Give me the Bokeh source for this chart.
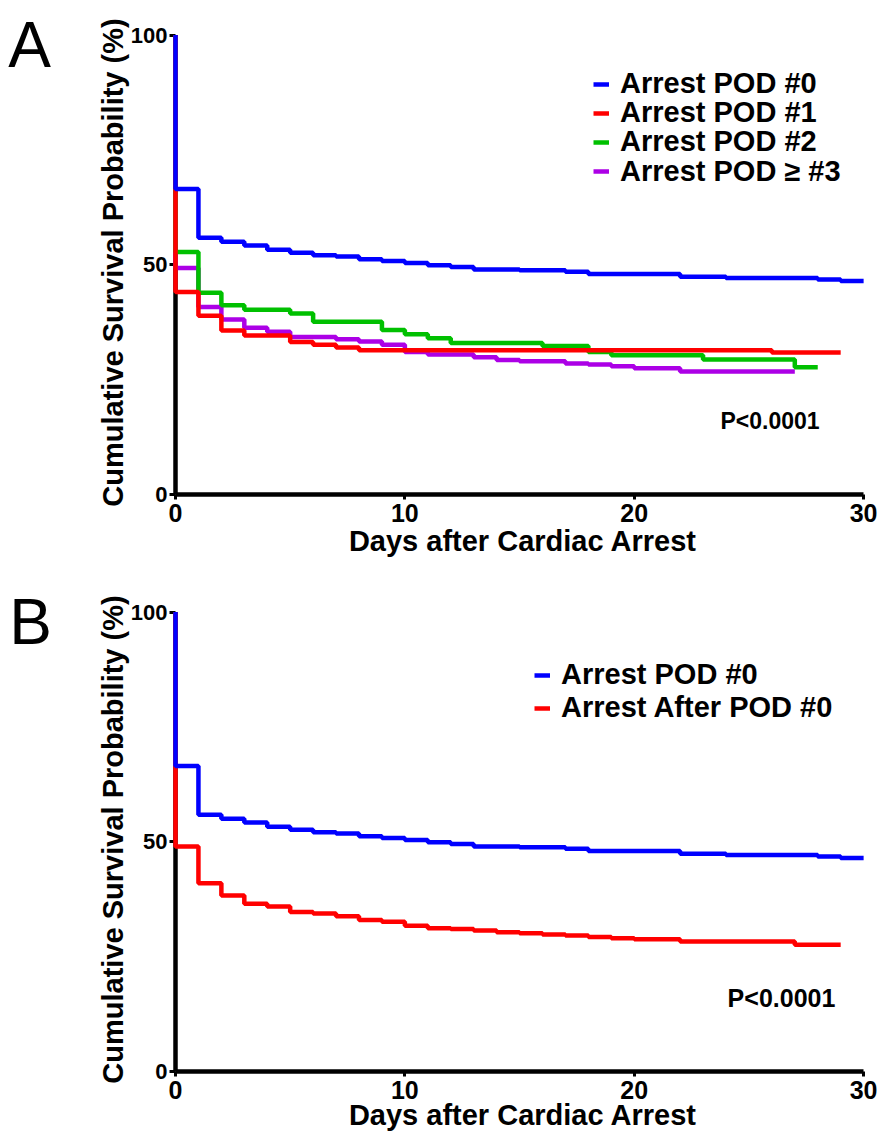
from bokeh.plotting import figure
from bokeh.models import Range1d, Legend, LegendItem, Label, FixedTicker
from bokeh.layouts import column, row
from bokeh.embed import file_html
from bokeh.resources import INLINE

# ---------------- data ----------------
x_ticks = [0, 10, 20, 30]
y_ticks = [0, 50, 100]

# Panel A
a_pod0_days = [0, 0, 1, 2, 3, 4, 5, 6, 7, 8, 9, 10, 11, 12, 13, 15, 17, 18, 22, 24, 28, 29, 30]
a_pod0_surv = [100, 66.5, 55.9, 55.0, 54.2, 53.3, 52.6, 52.1, 51.8, 51.2, 50.8, 50.4, 49.9, 49.5,
               49.0, 48.8, 48.5, 48.0, 47.4, 47.1, 46.8, 46.5, 46.5]

a_pod1_days = [0, 0, 1, 2, 3, 5, 6, 7, 8, 26, 29]
a_pod1_surv = [100, 44.1, 38.9, 35.7, 34.6, 33.2, 32.6, 32.0, 31.4, 30.9, 30.9]

a_pod2_days = [0, 0, 1, 2, 3, 5, 6, 9, 10, 11, 12, 16, 18, 19, 23, 27, 28]
a_pod2_surv = [100, 52.8, 43.9, 41.2, 40.2, 39.4, 37.6, 35.8, 34.9, 34.0, 33.0, 32.3, 31.0, 30.3,
               29.4, 27.7, 27.7]

a_pod3_days = [0, 0, 1, 2, 3, 4, 5, 7, 8, 9, 10, 11, 13, 14, 15, 17, 18, 19, 20, 22, 27]
a_pod3_surv = [100, 49.3, 40.8, 38.1, 36.3, 35.4, 34.3, 33.8, 33.3, 32.6, 31.0, 30.5, 29.9, 29.3,
               29.0, 28.5, 28.3, 27.9, 27.5, 26.8, 26.8]

# Panel B
b_pod0_days = a_pod0_days
b_pod0_surv = a_pod0_surv

b_after_days = [0, 0, 1, 2, 3, 4, 5, 6, 7, 8, 9, 10, 11, 12, 13, 14, 15, 16, 17, 18, 19, 20, 22, 27, 29]
b_after_surv = [100, 49.0, 41.0, 38.3, 36.5, 35.9, 34.7, 34.4, 33.8, 33.0, 32.6, 31.7, 31.2, 31.0,
                30.7, 30.3, 30.1, 29.8, 29.6, 29.3, 29.0, 28.8, 28.3, 27.6, 27.6]

labels_a = ["Arrest POD #0", "Arrest POD #1", "Arrest POD #2", "Arrest POD \u2265 #3"]
labels_b = ["Arrest POD #0", "Arrest After POD #0"]
panel_letters = ["A", "B"]
p_text = "P<0.0001"
x_title = "Days after Cardiac Arrest"
y_title = "Cumulative Survival Probability (%)"

BLUE = "#0000FF"
RED = "#FF0000"
GREEN = "#00C000"
PURPLE = "#AC00E6"
FONT = "Liberation Sans"
LW = 4.5


def make_panel(height, top, bottom, xlabel_standoff):
    p = figure(width=825, height=height, output_backend="svg", toolbar_location=None,
               x_range=Range1d(0, 30.3), y_range=Range1d(0, 101.0),
               min_border_left=120, min_border_right=10, min_border_top=top,
               min_border_bottom=bottom, outline_line_color=None)
    p.xgrid.visible = False
    p.ygrid.visible = False
    p.background_fill_color = "white"
    p.border_fill_color = "white"
    for ax, ticks, bounds in ((p.xaxis[0], x_ticks, (0, 30)), (p.yaxis[0], y_ticks, (0, 100))):
        ax.ticker = FixedTicker(ticks=ticks)
        ax.bounds = bounds
        ax.axis_line_width = LW
        ax.axis_line_color = "black"
        ax.major_tick_line_width = 3
        ax.major_tick_line_color = "black"
        ax.major_tick_in = 0
        ax.minor_tick_line_color = None
        ax.major_label_text_font = FONT
        ax.major_label_text_font_style = "bold"
        ax.major_label_text_color = "black"
        ax.axis_label_text_font = FONT
        ax.axis_label_text_font_style = "bold"
        ax.axis_label_text_font_size = "29px"
        ax.axis_label_text_color = "black"
    xa, ya = p.xaxis[0], p.yaxis[0]
    xa.major_tick_out = 5
    xa.major_label_standoff = 4
    xa.major_label_text_font_size = "25px"
    xa.axis_label = x_title
    xa.axis_label_standoff = xlabel_standoff
    ya.major_tick_out = 6
    ya.major_label_standoff = 2
    ya.major_label_text_font_size = "22px"
    ya.axis_label = y_title
    ya.axis_label_standoff = -1
    return p


def add_legend(p, items, loc):
    lg = Legend(items=items, location=loc, orientation="vertical",
                label_text_font=FONT, label_text_font_style="bold", label_text_font_size="29px",
                label_text_color="black", glyph_width=16, glyph_height=20, label_height=20,
                label_standoff=11, spacing=0, padding=0, margin=0,
                border_line_alpha=0, background_fill_alpha=0)
    p.add_layout(lg)


# ---------------- panel letters (narrow strip on the left) ----------------
letters = figure(width=55, height=1138, output_backend="svg", toolbar_location=None,
                 x_range=Range1d(0, 55), y_range=Range1d(0, 1138),
                 x_axis_location=None, y_axis_location=None, min_border=0,
                 outline_line_color=None)
letters.grid.visible = False
letters.add_layout(Label(x=29, y=1093.7, text=panel_letters[0], text_font=FONT,
                         text_font_size="64px", text_align="center",
                         text_baseline="alphabetic", text_color="black"))
letters.add_layout(Label(x=30, y=516.7, text=panel_letters[1], text_font=FONT,
                         text_font_size="64px", text_align="center",
                         text_baseline="alphabetic", text_color="black"))

# ---------------- Panel A ----------------
pA = make_panel(583, 30, 89, 0)
r3 = pA.step(a_pod3_days, a_pod3_surv, mode="after", line_color=PURPLE, line_width=LW, level="overlay")
r2 = pA.step(a_pod2_days, a_pod2_surv, mode="after", line_color=GREEN, line_width=LW, level="overlay")
r1 = pA.step(a_pod1_days, a_pod1_surv, mode="after", line_color=RED, line_width=LW, level="overlay")
r0 = pA.step(a_pod0_days, a_pod0_surv, mode="after", line_color=BLUE, line_width=LW, level="overlay")
for lab, rend, ypos in zip(labels_a, [r0, r1, r2, r3], [394, 365, 336, 306.5]):
    add_legend(pA, [LegendItem(label=lab, renderers=[rend])], (418, ypos))
pA.add_layout(Label(x=23.76, y=16.1, text=p_text, text_font=FONT, text_font_style="bold",
                    text_font_size="23px", text_baseline="middle", text_color="black"))

# ---------------- Panel B ----------------
pB = make_panel(555, 24, 67, -3)
rb1 = pB.step(b_after_days, b_after_surv, mode="after", line_color=RED, line_width=LW, level="overlay")
rb0 = pB.step(b_pod0_days, b_pod0_surv, mode="after", line_color=BLUE, line_width=LW, level="overlay")
add_legend(pB, [LegendItem(label=labels_b[0], renderers=[rb0]),
                LegendItem(label=labels_b[1], renderers=[rb1])], (359, 347))
pB.add_layout(Label(x=24.07, y=16.1, text=p_text, text_font=FONT, text_font_style="bold",
                    text_font_size="25px", text_baseline="middle", text_color="black"))

layout = row(letters, column(pA, pB, spacing=0), spacing=0)
open("out.html", "w").write(file_html(layout, INLINE))
